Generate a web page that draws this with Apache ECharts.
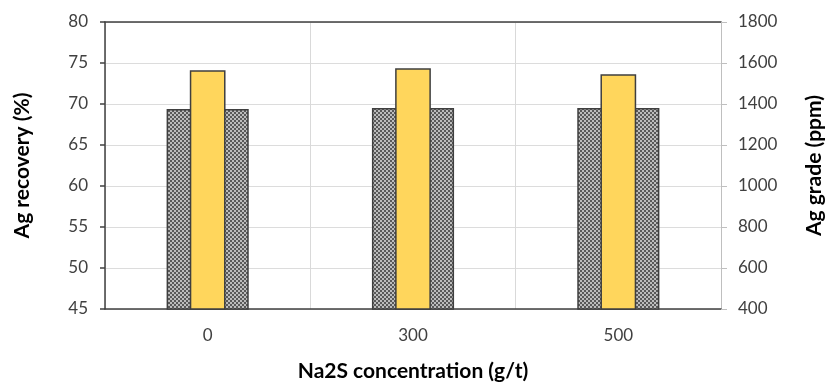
<!DOCTYPE html>
<html>
<head>
<meta charset="utf-8">
<script src="https://cdn.jsdelivr.net/npm/echarts@6/dist/echarts.min.js"></script>
<style>
  html, body { margin: 0; padding: 0; background: #fff; }
  #chart { width: 833px; height: 387px; }
</style>
</head>
<body>
<div id="chart"></div>
<script>
// Na2S dosage levels
const categories = ['0', '300', '500'];
// Ag recovery (%), left axis
const recovery = [69.4, 69.5, 69.5];
// Ag grade (ppm), right axis
const grade = [1565, 1575, 1545];
// Axis tick ranges
const recoveryTicks = { min: 45, max: 80, step: 5 };
const gradeTicks = { min: 400, max: 1800, step: 200 };

// small checker tile used for the recovery bars
function checkerTile() {
  const c = document.createElement('canvas');
  c.width = 4; c.height = 4;
  const g = c.getContext('2d');
  g.fillStyle = '#595959';
  g.fillRect(0, 0, 4, 4);
  g.fillStyle = '#bcbcbc';
  g.fillRect(0, 0, 2, 2);
  g.fillRect(2, 2, 2, 2);
  return c;
}

const font = 'Lato, "Liberation Sans", sans-serif';
const chart = echarts.init(document.getElementById('chart'));

chart.setOption({
  animation: false,
  grid: { left: 105, right: 111, top: 22, bottom: 75 },
  xAxis: [
    {
      type: 'category',
      data: categories,
      position: 'bottom',
      axisLine: { show: true, lineStyle: { color: '#404040', width: 1.5 } },
      axisTick: { show: false },
      axisLabel: { color: '#404040', fontFamily: font, fontSize: 17, margin: 18 },
      splitLine: { show: true, lineStyle: { color: '#d9d9d9', width: 1 } },
      name: 'Na2S concentration (g/t)',
      nameLocation: 'middle',
      nameGap: 52,
      nameTextStyle: { color: '#000', fontFamily: font, fontWeight: 'bold', fontSize: 21 }
    },
    {
      type: 'category',
      data: categories,
      position: 'top',
      axisLine: { show: true, onZero: false, lineStyle: { color: '#404040', width: 1.5 } },
      axisTick: { show: false },
      axisLabel: { show: false },
      splitLine: { show: false }
    }
  ],
  yAxis: [
    {
      type: 'value',
      min: recoveryTicks.min,
      max: recoveryTicks.max,
      interval: recoveryTicks.step,
      position: 'left',
      axisLine: { show: true, lineStyle: { color: '#404040', width: 1.5 } },
      axisTick: { show: true, length: 5, lineStyle: { color: '#404040', width: 1.5 } },
      axisLabel: { color: '#404040', fontFamily: font, fontSize: 17, margin: 17 },
      splitLine: { show: true, lineStyle: { color: '#dcdcdc', width: 1 } },
      name: 'Ag recovery (%)',
      nameLocation: 'middle',
      nameGap: 72,
      nameRotate: 90,
      nameTextStyle: { color: '#000', fontFamily: font, fontWeight: 'bold', fontSize: 21 }
    },
    {
      type: 'value',
      min: gradeTicks.min,
      max: gradeTicks.max,
      interval: gradeTicks.step,
      position: 'right',
      axisLine: { show: true, lineStyle: { color: '#bfbfbf', width: 1 } },
      axisTick: { show: true, length: 6, lineStyle: { color: '#bfbfbf', width: 1 } },
      axisLabel: {
        color: '#404040', fontFamily: font, fontSize: 17, margin: 17,
        formatter: v => String(v)
      },
      splitLine: { show: false },
      name: 'Ag grade (ppm)',
      nameLocation: 'middle',
      nameGap: 83,
      nameRotate: 90,
      nameTextStyle: { color: '#000', fontFamily: font, fontWeight: 'bold', fontSize: 21 }
    }
  ],
  series: [
    {
      name: 'Ag recovery',
      type: 'bar',
      xAxisIndex: 0,
      yAxisIndex: 0,
      data: recovery,
      barWidth: '40%',
      itemStyle: {
        color: { image: checkerTile(), repeat: 'repeat' },
        borderColor: '#3f3f3f',
        borderWidth: 1.5
      }
    },
    {
      name: 'Ag grade',
      type: 'bar',
      xAxisIndex: 1,
      yAxisIndex: 1,
      data: grade,
      barWidth: '17.4%',
      itemStyle: {
        color: '#ffd65c',
        borderColor: '#3f3f3f',
        borderWidth: 1.5
      }
    }
  ]
});
</script>
</body>
</html>
